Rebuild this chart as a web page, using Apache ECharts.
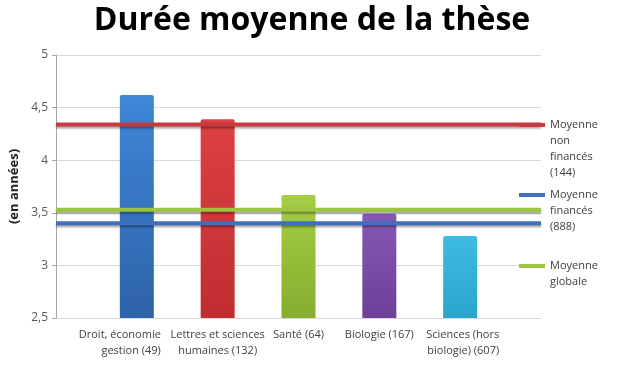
<!DOCTYPE html>
<html><head><meta charset="utf-8">
<script src="https://cdn.jsdelivr.net/npm/echarts@6/dist/echarts.min.js"></script>
<style>html,body{margin:0;padding:0;background:#fff}#c{width:624px;height:390px}</style>
</head><body><div id="c"></div>
<script>
var categories = ['', 'Droit, économie\ngestion (49)', 'Lettres et sciences\nhumaines (132)', 'Santé (64)', 'Biologie (167)', 'Sciences (hors\nbiologie) (607)', ''];
var barValues = [4.62, 4.39, 3.67, 3.49, 3.28];
var barColors = [['#3f87d8', '#2d62a8'], ['#dd4043', '#c02d31'], ['#a5cd45', '#86ae2e'], ['#8659b4', '#6c4097'], ['#3dbde0', '#2aa5cb']];
var meanNames = ['Moyenne\nnon\nfinancés\n(144)', 'Moyenne\nfinancés\n(888)', 'Moyenne\nglobale'];
var meanValues = [4.34, 3.40, 3.53];
var meanColors = ['#c63b3e', '#3f6fbf', '#9cc540'];
var yTicks = {min: 2.5, max: 5, interval: 0.5};

var barData = [null];
barValues.forEach(function (v, i) {
  barData.push({value: v, itemStyle: {color: new echarts.graphic.LinearGradient(0, 0, 0, 1, [{offset: 0, color: barColors[i][0]}, {offset: 1, color: barColors[i][1]}])}});
});
barData.push(null);

var series = [{
  type: 'bar', data: barData, barWidth: 34, z: 1,
  itemStyle: {borderRadius: [2, 2, 0, 0]}
}];
meanNames.forEach(function (n, i) {
  series.push({
    type: 'line', name: n, symbol: 'none', z: 3,
    data: categories.map(function () { return meanValues[i]; }),
    lineStyle: {color: meanColors[i], width: 4, shadowColor: 'rgba(0,0,0,0.35)', shadowBlur: 2, shadowOffsetY: 2},
    itemStyle: {color: meanColors[i]}
  });
});

var lineCounts = [4, 3, 2];
var iconCenters = [120, 190, 261];
var legends = meanNames.map(function (n, i) {
  var blank = lineCounts[i] - 1;
  var total = lineCounts[i] + blank;
  return {
    data: [{name: n, icon: 'rect'}],
    left: 514, top: iconCenters[i] - total * 8, orient: 'vertical',
    itemWidth: 26, itemHeight: 4,
    formatter: function (name) { return new Array(blank + 1).join('\n') + name; },
    textStyle: {fontFamily: 'Open Sans', fontSize: 11, color: '#404040', lineHeight: 16},
    selectedMode: false
  };
});

var chart = echarts.init(document.getElementById('c'));
chart.setOption({
  animation: false,
  backgroundColor: '#fff',
  title: {text: 'Durée moyenne de la thèse', left: 'center', top: 0,
    textStyle: {fontFamily: 'Open Sans', fontWeight: 'bold', fontSize: 32, color: '#000'}},
  legend: legends,
  grid: {left: 55, right: 83, top: 55, bottom: 72},
  xAxis: {
    type: 'category', data: categories.map(function (c, i) {
      if (i === 1) return {value: c, textStyle: {align: 'right', padding: [0, -24, 0, 0]}};
      if (i === 5) return {value: c, textStyle: {align: 'right', padding: [0, -39, 0, 0]}};
      return c;
    }),
    boundaryGap: false,
    axisLine: {show: false}, axisTick: {show: false},
    axisLabel: {interval: 0, margin: 9, fontFamily: 'Open Sans', fontSize: 11, color: '#404040', lineHeight: 16}
  },
  yAxis: {
    type: 'value', min: yTicks.min, max: yTicks.max, interval: yTicks.interval,
    name: '(en années)', nameLocation: 'middle', nameGap: 35, nameRotate: 90, nameMoveOverlap: false,
    nameTextStyle: {fontFamily: 'Open Sans', fontWeight: 'bold', fontSize: 13, color: '#222'},
    axisLine: {show: true, lineStyle: {color: '#a6a6a6'}},
    axisTick: {show: true, length: 4, lineStyle: {color: '#a6a6a6'}},
    axisLabel: {fontFamily: 'Open Sans', fontSize: 12, color: '#595959', margin: 8,
      formatter: function (v) { return String(v).replace('.', ','); }},
    splitLine: {lineStyle: {color: '#d9d9d9'}}
  },
  series: series
});
</script></body></html>
